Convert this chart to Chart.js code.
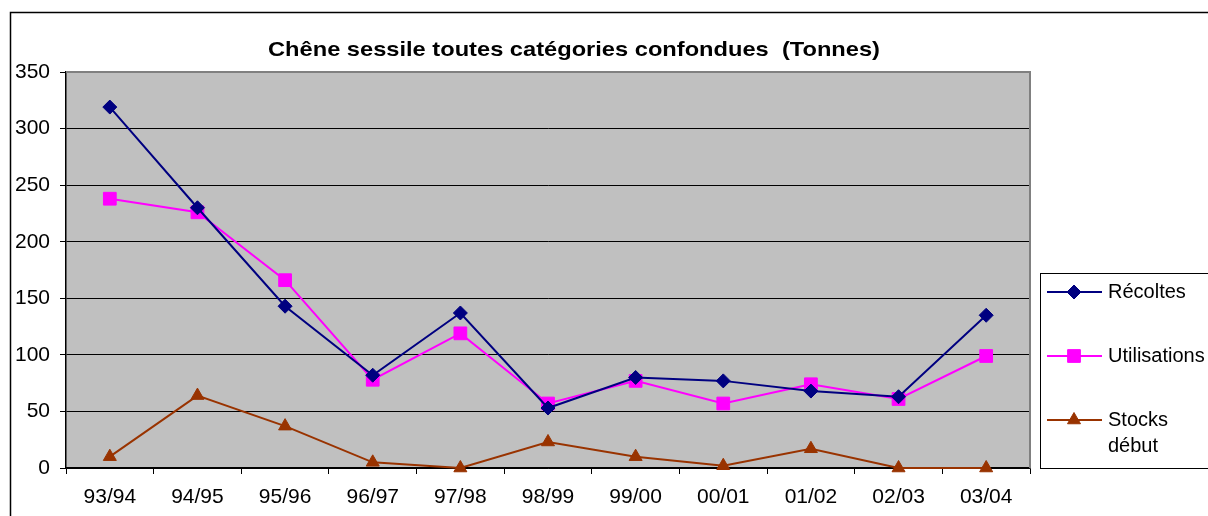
<!DOCTYPE html>
<html>
<head>
<meta charset="utf-8">
<script src="https://cdn.jsdelivr.net/npm/chart.js@4"></script>
<style>
  html, body { margin: 0; padding: 0; background: #fff; }
  #wrap { width: 1208px; height: 516px; position: relative; }
</style>
</head>
<body>
<div id="wrap"><canvas id="chart" width="1208" height="516"></canvas></div>
<script>
// Data
const seasons = ["93/94", "94/95", "95/96", "96/97", "97/98", "98/99", "99/00", "00/01", "01/02", "02/03", "03/04"];
const recoltes = [319, 230, 143, 82, 137, 53, 80, 77, 68, 63, 135];
const utilisations = [238, 226, 166, 78, 119, 57, 77, 57, 74, 61, 99];
const stocksDebut = [10, 64, 37, 5, 0, 23, 10, 2, 17, 0, 0];
const yTicks = [0, 50, 100, 150, 200, 250, 300, 350];

const chartTitle = "Chêne sessile toutes catégories confondues  (Tonnes)";
const seriesNames = ["Récoltes", "Utilisations", ["Stocks", "début"]];
const seriesColors = ["#000080", "#FF00FF", "#993300"];
const seriesMarkers = ["rectRot", "rect", "triangle"];
const markerSizes = [7, 9, 7.5];

const FONT = "'Liberation Sans', Arial, sans-serif";

// Gray plot background, frame, title and legend
const excelLook = {
  id: "excelLook",
  beforeDraw(chart) {
    const { ctx, chartArea: a } = chart;
    ctx.save();
    ctx.fillStyle = "#C0C0C0";
    ctx.fillRect(a.left, a.top, a.right - a.left, a.bottom - a.top);
    // outer frame
    ctx.strokeStyle = "#000";
    ctx.lineWidth = 1.5;
    ctx.strokeRect(10.5, 12.5, 1400, 600);
    ctx.restore();
  },
  beforeDatasetsDraw(chart) {
    const { ctx, chartArea: a } = chart;
    ctx.save();
    ctx.strokeStyle = "#808080";
    ctx.lineWidth = 2;
    ctx.beginPath();
    ctx.moveTo(a.left, a.top);
    ctx.lineTo(a.right, a.top);
    ctx.lineTo(a.right, a.bottom);
    ctx.stroke();
    ctx.restore();
  },
  afterDraw(chart) {
    const { ctx } = chart;
    ctx.save();
    // title (Excel text renders a bit wider, so stretch it)
    ctx.fillStyle = "#000";
    ctx.font = "bold 21px " + FONT;
    ctx.textAlign = "center";
    ctx.textBaseline = "middle";
    const w = ctx.measureText(chartTitle).width;
    ctx.save();
    ctx.translate(574, 50);
    ctx.scale(612 / w, 1);
    ctx.fillText(chartTitle, 0, 0);
    ctx.restore();

    // legend box
    const lx = 1040, ly = 273;
    ctx.strokeStyle = "#000";
    ctx.lineWidth = 1;
    ctx.strokeRect(lx + 0.5, ly + 0.5, 300, 195);
    const rows = [292, 356, 420];
    ctx.font = "20px " + FONT;
    ctx.textAlign = "left";
    seriesNames.forEach((name, i) => {
      const y = rows[i];
      ctx.strokeStyle = seriesColors[i];
      ctx.fillStyle = seriesColors[i];
      ctx.lineWidth = 2;
      ctx.beginPath();
      ctx.moveTo(lx + 7, y);
      ctx.lineTo(lx + 62, y);
      ctx.stroke();
      ctx.lineWidth = 1;
      Chart.helpers.drawPoint(ctx, { pointStyle: seriesMarkers[i], radius: markerSizes[i], rotation: 0, borderWidth: 1 }, lx + 34, y);
      ctx.fillStyle = "#000";
      const lines = Array.isArray(name) ? name : [name];
      lines.forEach((t, k) => ctx.fillText(t, lx + 68, y + k * 26));
    });
    ctx.restore();
  }
};

const makeSet = (label, data, i) => ({
  label: Array.isArray(label) ? label.join(" ") : label,
  data: data,
  borderColor: seriesColors[i],
  backgroundColor: seriesColors[i],
  borderWidth: 2,
  pointStyle: seriesMarkers[i],
  pointRadius: markerSizes[i],
  pointBorderWidth: 1,
  pointBorderColor: seriesColors[i],
  pointBackgroundColor: seriesColors[i],
  tension: 0,
  clip: false
});

new Chart(document.getElementById("chart"), {
  type: "line",
  data: {
    labels: seasons,
    datasets: [
      makeSet(seriesNames[0], recoltes, 0),
      makeSet(seriesNames[1], utilisations, 1),
      makeSet(seriesNames[2], stocksDebut, 2)
    ]
  },
  options: {
    responsive: false,
    animation: false,
    layout: { padding: { top: 72, right: 178, bottom: 0, left: 0 } },
    plugins: {
      legend: { display: false },
      title: { display: false },
      tooltip: { enabled: false }
    },
    scales: {
      x: {
        offset: true,
        grid: { offset: true, drawOnChartArea: false, drawTicks: true, tickLength: 6, color: "#000", lineWidth: 1 },
        border: { color: "#000", width: 1.5 },
        ticks: { color: "#000", font: { family: FONT, size: 21 }, padding: 11, maxRotation: 0, autoSkip: false },
        afterFit(scale) { scale.height = 48; }
      },
      y: {
        min: 0,
        max: 350,
        afterBuildTicks(scale) { scale.ticks = yTicks.map(v => ({ value: v })); },
        grid: { color: "#000", lineWidth: 1, drawTicks: true, tickLength: 6, tickColor: "#000" },
        border: { color: "#000", width: 1.5 },
        ticks: { color: "#000", font: { family: FONT, size: 21 }, padding: 10 },
        afterFit(scale) { scale.width = 66; }
      }
    }
  },
  plugins: [excelLook]
});
</script>
</body>
</html>
